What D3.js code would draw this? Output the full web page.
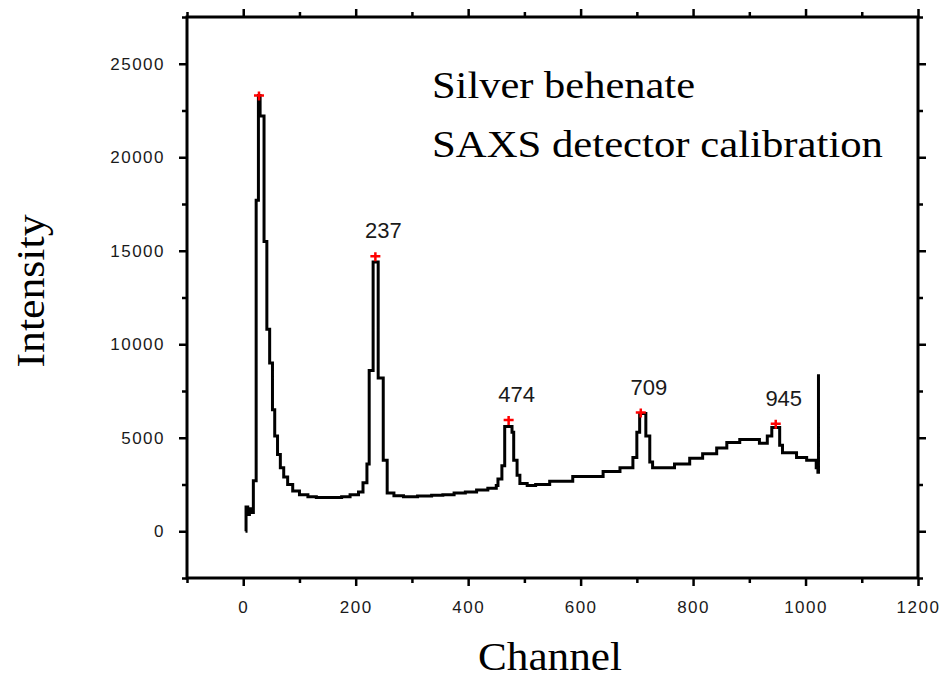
<!DOCTYPE html>
<html>
<head>
<meta charset="utf-8">
<script src="https://cdn.jsdelivr.net/npm/d3@7"></script>
<style>
  body { margin: 0; background: white; }
</style>
</head>
<body>
<svg width="949" height="678"></svg>
<script>
// scan (step data, value holds until next channel)
const channel = [4, 5, 8, 11, 14, 18, 23, 27, 30, 37, 42, 47, 52, 56, 61, 66, 72, 79, 88, 100,
  115, 130, 175, 190, 205, 213, 220, 224, 231, 240, 249, 256, 268, 285, 310, 335, 355, 375, 395, 415,
  435, 450, 453, 460, 465, 478, 481, 487, 492, 505, 520, 545, 586, 640, 670, 693, 700, 705, 716, 723,
  728, 767, 794, 817, 842, 860, 883, 918, 932, 940, 954, 959, 984, 1002, 1019, 1022, 1023, 1023];
const intensity = [0, 1300, 900, 1200, 1000, 2700, 17700, 23300, 22200, 15500, 10800, 9000, 6500, 5100, 4100, 3400, 2900, 2500, 2150, 1950,
  1850, 1800, 1850, 1950, 2100, 2600, 3600, 8600, 14400, 8200, 3800, 2050, 1900, 1850, 1880, 1920, 1950, 2050, 2100, 2200,
  2300, 2450, 2800, 3500, 5600, 5300, 3800, 3000, 2550, 2450, 2500, 2670, 2930, 3200, 3400, 3950, 5300, 6300, 5100, 3700,
  3400, 3600, 3900, 4150, 4450, 4750, 4900, 4700, 5100, 5550, 4600, 4200, 3950, 3800, 3400, 3150, 8400, 3300];

const peakChannel = [28, 235, 472, 707, 947];
const peakIntensity = [23300, 14700, 5950, 6350, 5750];
const peakLabels = ["", "237", "474", "709", "945"];

const xMajor = [0, 200, 400, 600, 800, 1000, 1200];
const xMinor = [-100, 100, 300, 500, 700, 900, 1100];
const yMajor = [0, 5000, 10000, 15000, 20000, 25000];
const yMinor = [-2500, 2500, 7500, 12500, 17500, 22500, 27500];

const svg = d3.select('svg');
const width = +svg.attr('width');
const height = +svg.attr('height');

const x = d3.scaleLinear().domain([-100, 1200]).range([187, 918]);
const y = d3.scaleLinear().domain([-2500, 27500]).range([578, 17]);

const styleAxis = (g, lab) => {
  g.select('.domain').remove();
  g.selectAll('line').attr('stroke', '#000').attr('stroke-width', 2.5);
  g.selectAll('text').attr('font-family', 'Liberation Sans, Arial, sans-serif')
    .attr('font-size', 17).attr('fill', '#1a1a1a').attr('letter-spacing', lab ? 1.5 : 0);
};

// bottom
svg.append('g').attr('transform', `translate(0,${y(-2500)})`)
  .call(d3.axisBottom(x).tickValues(xMajor).tickSize(8).tickPadding(15).tickFormat(d3.format('d')))
  .call(g => styleAxis(g, true));
svg.append('g').attr('transform', `translate(0,${y(-2500)})`)
  .call(d3.axisBottom(x).tickValues(xMinor).tickSize(5).tickFormat(''))
  .call(g => styleAxis(g));
// top
svg.append('g').attr('transform', `translate(0,${y(27500)})`)
  .call(d3.axisTop(x).tickValues(xMajor).tickSize(8).tickFormat(''))
  .call(g => styleAxis(g));
svg.append('g').attr('transform', `translate(0,${y(27500)})`)
  .call(d3.axisTop(x).tickValues(xMinor).tickSize(5).tickFormat(''))
  .call(g => styleAxis(g));
// left
svg.append('g').attr('transform', `translate(${x(-100)},0)`)
  .call(d3.axisLeft(y).tickValues(yMajor).tickSize(8).tickPadding(14).tickFormat(d3.format('d')))
  .call(g => styleAxis(g, true));
svg.append('g').attr('transform', `translate(${x(-100)},0)`)
  .call(d3.axisLeft(y).tickValues(yMinor).tickSize(5).tickFormat(''))
  .call(g => styleAxis(g));
// right
svg.append('g').attr('transform', `translate(${x(1200)},0)`)
  .call(d3.axisRight(y).tickValues(yMajor).tickSize(8).tickFormat(''))
  .call(g => styleAxis(g));
svg.append('g').attr('transform', `translate(${x(1200)},0)`)
  .call(d3.axisRight(y).tickValues(yMinor).tickSize(5).tickFormat(''))
  .call(g => styleAxis(g));

// frame
svg.append('rect')
  .attr('x', x(-100)).attr('y', y(27500))
  .attr('width', x(1200) - x(-100)).attr('height', y(-2500) - y(27500))
  .attr('fill', 'none').attr('stroke', '#000').attr('stroke-width', 3);

// curve
const pts = channel.map((c, i) => [c, intensity[i]]);
svg.append('path')
  .datum(pts)
  .attr('fill', 'none')
  .attr('stroke', '#000')
  .attr('stroke-width', 3)
  .attr('d', d3.line().x(d => x(d[0])).y(d => y(d[1])).curve(d3.curveStepAfter));

// peak markers
const peaks = peakChannel.map((c, i) => ({c, v: peakIntensity[i], t: peakLabels[i]}));
svg.selectAll('.mark').data(peaks).enter().append('path')
  .attr('class', 'mark')
  .attr('transform', d => `translate(${x(d.c)},${y(d.v)})`)
  .attr('d', 'M-5,0H5M0,-4V5')
  .attr('stroke', 'red').attr('stroke-width', 2.5);

svg.selectAll('.plab').data(peaks).enter().append('text')
  .attr('class', 'plab')
  .attr('x', d => x(d.c) + 8)
  .attr('y', d => y(d.v) - 18)
  .attr('text-anchor', 'middle')
  .attr('font-family', 'Liberation Sans, Arial, sans-serif')
  .attr('font-size', 22)
  .attr('fill', '#1a1a1a')
  .text(d => d.t);

// annotation
const serif = 'Liberation Serif, Times New Roman, serif';
svg.append('text').attr('x', 432).attr('y', 98)
  .attr('font-family', serif).attr('font-size', 38)
  .attr('textLength', 263).attr('lengthAdjust', 'spacingAndGlyphs')
  .text('Silver behenate');
svg.append('text').attr('x', 432).attr('y', 157)
  .attr('font-family', serif).attr('font-size', 38)
  .attr('textLength', 451).attr('lengthAdjust', 'spacingAndGlyphs')
  .text('SAXS detector calibration');

// axis titles
svg.append('text')
  .attr('x', 550).attr('y', 670)
  .attr('text-anchor', 'middle')
  .attr('font-family', serif).attr('font-size', 40)
  .attr('textLength', 144).attr('lengthAdjust', 'spacingAndGlyphs')
  .text('Channel');
svg.append('text')
  .attr('transform', 'translate(44,291) rotate(-90)')
  .attr('text-anchor', 'middle')
  .attr('font-family', serif).attr('font-size', 40)
  .attr('textLength', 153).attr('lengthAdjust', 'spacingAndGlyphs')
  .text('Intensity');
</script>
</body>
</html>
